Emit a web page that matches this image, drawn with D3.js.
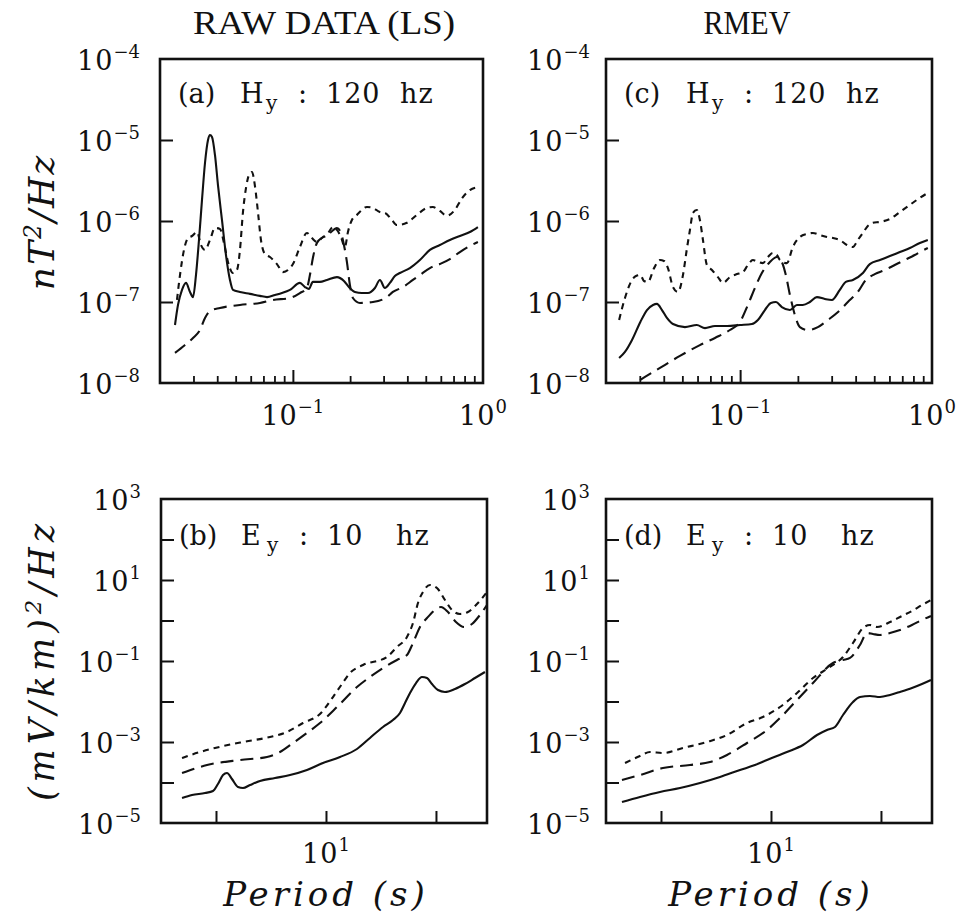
<!DOCTYPE html>
<html>
<head>
<meta charset="utf-8">
<script src="https://cdn.jsdelivr.net/npm/d3@7"></script>
<style>
  body { margin: 0; background: #fff; }
  text { fill: #111; }
</style>
</head>
<body>
<svg id="chart" width="967" height="922"></svg>
<script>
// ---- axis extents and tick values ----
const hyPeriodDomain = [0.02, 1];
const hyPowerDomain = [1e-8, 1e-4];
const eyPeriodDomain = [Math.pow(10, 0.25), Math.pow(10, 1.732)];
const eyPowerDomain = [1e-5, 1e3];
const hyYTicks = [1e-7, 1e-6, 1e-5];
const hyYLabels = [[1e-8, "\u22128"], [1e-7, "\u22127"], [1e-6, "\u22126"], [1e-5, "\u22125"], [1e-4, "\u22124"]];
const hyXLabels = [[0.1, "\u22121"], [1, "0"]];
const eyYTicks = [1e-4, 1e-3, 1e-2, 1e-1, 1, 10, 100];
const eyYLabels = [[1e-5, "\u22125"], [1e-3, "\u22123"], [1e-1, "\u22121"], [10, "1"], [1000, "3"]];
const eyXTicks = [Math.pow(10, 0.5), 10, Math.pow(10, 1.5)];
const eyXLabels = [[10, "1"]];

// ---- (a) Hy 120 hz, raw data (LS) ----
const aSolidT = [0.02398,0.02487,0.02611,0.0274,0.02876,0.02983,0.03092,0.03207,0.03326,0.03449,0.03577,0.03664,0.03754,0.03892,0.04036,0.04236,0.04447,0.04667,0.0484,0.05268,0.05946,0.06711,0.0731,0.08048,0.0876,0.0965,0.1089,0.1157,0.1214,0.1274,0.1388,0.151,0.1705,0.1856,0.1971,0.212,0.2307,0.2482,0.2701,0.2869,0.3048,0.3238,0.344,0.3655,0.4125,0.4656,0.5256,0.5932,0.6696,0.7558,0.853,0.94];
const aSolidP = [5.2e-8,9.2e-8,1.41e-7,1.72e-7,1.33e-7,1.15e-7,2.15e-7,5.83e-7,1.82e-6,5.2e-6,1.0e-5,1.15e-5,1.09e-5,6.53e-6,2.78e-6,1.03e-6,3.8e-7,1.87e-7,1.41e-7,1.33e-7,1.26e-7,1.19e-7,1.15e-7,1.22e-7,1.29e-7,1.41e-7,1.72e-7,1.53e-7,1.45e-7,1.77e-7,1.77e-7,1.87e-7,2.03e-7,1.82e-7,1.53e-7,1.33e-7,1.29e-7,1.29e-7,1.49e-7,1.87e-7,1.49e-7,1.72e-7,2.09e-7,2.28e-7,2.62e-7,3.3e-7,4.39e-7,5.06e-7,5.83e-7,6.53e-7,7.32e-7,8.43e-7];
const aShortT = [0.02457,0.02548,0.02674,0.02807,0.02947,0.0313,0.03286,0.03449,0.03664,0.03892,0.04135,0.0434,0.04556,0.0484,0.0508,0.05268,0.05463,0.05665,0.05875,0.06092,0.06317,0.06551,0.06793,0.0713,0.07575,0.08245,0.08867,0.0942,0.1001,0.1089,0.1185,0.1259,0.1338,0.1422,0.151,0.1624,0.1705,0.179,0.1878,0.1948,0.2044,0.2172,0.2452,0.2636,0.2869,0.3048,0.3318,0.3524,0.3978,0.4491,0.5068,0.5451,0.5932,0.6457,0.7114,0.7744,0.853,0.94];
const aShortP = [1.06e-7,2.15e-7,4.39e-7,6.17e-7,6.53e-7,7.32e-7,5.06e-7,4.39e-7,5.83e-7,8.2e-7,7.97e-7,5.36e-7,3.12e-7,2.28e-7,2.48e-7,4.39e-7,1.29e-6,2.55e-6,3.7e-6,4.03e-6,2.7e-6,1.29e-6,5.83e-7,3.91e-7,3.59e-7,2.94e-7,2.34e-7,2.48e-7,2.94e-7,4.78e-7,7.12e-7,6.17e-7,5.51e-7,6.17e-7,6.72e-7,8.43e-7,7.75e-7,6.34e-7,4.78e-7,7.32e-7,1.03e-6,1.19e-6,1.49e-6,1.45e-6,1.29e-6,1.26e-6,1.03e-6,8.93e-7,9.5e-7,1.19e-6,1.45e-6,1.49e-6,1.33e-6,1.16e-6,1.37e-6,1.9e-6,2.41e-6,2.62e-6];
const aLongT = [0.02398,0.02707,0.02983,0.03246,0.03449,0.03664,0.04135,0.05268,0.06711,0.0786,0.0965,0.1089,0.1185,0.1229,0.1274,0.1338,0.144,0.1566,0.1705,0.179,0.1856,0.1924,0.1995,0.2069,0.2252,0.2636,0.3123,0.3358,0.3791,0.4278,0.4656,0.5256,0.5932,0.6696,0.7558,0.853,0.94];
const aLongP = [2.35e-8,2.94e-8,3.6e-8,4.51e-8,6.35e-8,7.74e-8,8.43e-8,9.2e-8,9.74e-8,1.06e-7,1.12e-7,1.29e-7,1.49e-7,2.15e-7,3.49e-7,5.36e-7,6.34e-7,7.12e-7,8.2e-7,7.12e-7,5.06e-7,3.12e-7,1.62e-7,1.12e-7,9.74e-8,1.0e-7,1.15e-7,1.33e-7,1.53e-7,1.87e-7,2.15e-7,2.62e-7,2.94e-7,3.39e-7,4.14e-7,4.92e-7,5.51e-7];

// ---- (c) Hy 120 hz, RMEV ----
const cSolidT = [0.02341,0.02511,0.02733,0.0302,0.0327,0.03516,0.03686,0.03916,0.04155,0.04468,0.05158,0.05946,0.06559,0.07394,0.0855,0.0998,0.1152,0.1238,0.1346,0.1447,0.1537,0.165,0.1818,0.1978,0.212,0.231,0.2512,0.2764,0.3009,0.3309,0.3555,0.3869,0.4365,0.4741,0.5353,0.6034,0.6803,0.7669,0.8644,0.951];
const cSolidP = [2.03e-8,2.42e-8,3.4e-8,5.67e-8,7.96e-8,9.2e-8,9.47e-8,7.96e-8,6.35e-8,5.35e-8,4.9e-8,5.2e-8,4.76e-8,5.05e-8,5.05e-8,5.2e-8,5.35e-8,6.0e-8,7.96e-8,9.74e-8,1.0e-7,8.67e-8,7.96e-8,9.2e-8,9.2e-8,1.0e-7,1.15e-7,1.09e-7,1.06e-7,1.41e-7,1.77e-7,1.87e-7,2.28e-7,2.94e-7,3.3e-7,3.69e-7,4.14e-7,4.64e-7,5.36e-7,5.83e-7];
const cShortT = [0.02341,0.02511,0.02733,0.02866,0.0302,0.03153,0.03309,0.0356,0.03823,0.04011,0.04206,0.04468,0.04742,0.05037,0.05268,0.05476,0.05679,0.05946,0.06172,0.06402,0.06711,0.0713,0.0766,0.0814,0.0885,0.0963,0.1034,0.1098,0.1165,0.1238,0.1314,0.1396,0.1481,0.1556,0.1612,0.1754,0.1883,0.2049,0.2229,0.2393,0.2604,0.2833,0.3048,0.3309,0.3602,0.3869,0.4105,0.4365,0.4628,0.4917,0.5353,0.6034,0.6803,0.7669,0.8644,0.951];
const cShortP = [6.0e-8,1.12e-7,1.87e-7,2.09e-7,2.15e-7,1.82e-7,1.77e-7,2.62e-7,3.3e-7,3.21e-7,2.62e-7,1.53e-7,1.33e-7,2.15e-7,4.39e-7,7.75e-7,1.26e-6,1.37e-6,1.03e-6,5.83e-7,2.86e-7,2.48e-7,2.03e-7,1.72e-7,2.03e-7,2.21e-7,2.34e-7,2.86e-7,3.3e-7,3.12e-7,3.02e-7,3.59e-7,4.03e-7,3.8e-7,3.3e-7,3.02e-7,4.78e-7,6.34e-7,6.91e-7,7.12e-7,6.72e-7,6.34e-7,6.17e-7,5.83e-7,5.06e-7,4.78e-7,5.83e-7,7.12e-7,8.68e-7,9.5e-7,9.74e-7,1.06e-6,1.29e-6,1.58e-6,1.93e-6,2.22e-6];
const cLongT = [0.02481,0.0302,0.03823,0.04857,0.06172,0.07394,0.0885,0.0998,0.1098,0.1194,0.1298,0.143,0.1556,0.165,0.1731,0.1818,0.1929,0.2049,0.2255,0.2542,0.2869,0.3238,0.3642,0.4105,0.4517,0.5031,0.5673,0.6394,0.7209,0.8127,0.884,0.951];
const cLongP = [7.75e-9,1.09e-8,1.535e-8,2.16e-8,2.94e-8,3.6e-8,4.51e-8,5.67e-8,9.2e-8,1.49e-7,2.28e-7,3.12e-7,3.59e-7,3.12e-7,2.15e-7,1.22e-7,6.91e-8,4.9e-8,4.51e-8,4.9e-8,6.0e-8,7.52e-8,1.0e-7,1.33e-7,1.87e-7,2.21e-7,2.48e-7,2.86e-7,3.3e-7,3.8e-7,4.26e-7,4.64e-7];

// ---- (b) Ey 10 hz, raw data (LS) ----
const bSolidT = [2.216,2.46,2.818,3.064,3.228,3.403,3.548,3.738,3.981,4.195,4.514,5.012,5.864,6.861,8.195,9.69,11.58,13.83,15.85,18.16,20.16,21.7,22.87,24.1,25.66,27.32,28.79,30.33,32.29,34.75,38.59,42.83,47.56,52.8];
const bSolidP = [4.14e-5,4.91e-5,5.5e-5,6.17e-5,9.18e-5,1.53e-4,1.72e-4,1.22e-4,7.74e-5,7.31e-5,8.67e-5,1.09e-4,1.29e-4,1.53e-4,2.04e-4,3.03e-4,4.26e-4,6.72e-4,1.26e-3,2.35e-3,3.49e-3,5.2e-3,9.18e-3,1.62e-2,2.86e-2,4.03e-2,3.8e-2,2.7e-2,1.92e-2,1.72e-2,2.04e-2,2.7e-2,3.8e-2,5.35e-2];
const bShortT = [2.216,2.675,3.129,4.195,5.565,6.647,7.86,9.39,10.76,11.82,12.86,14.73,18.94,21.02,23.34,24.86,26.19,27.6,29.7,31.95,34.75,37.39,40.64,44.2,48.57,53.93];
const bShortP = [4.03e-4,5.66e-4,7.11e-4,1.0e-3,1.33e-3,1.77e-3,2.94e-3,4.91e-3,1.29e-2,2.7e-2,5.06e-2,7.96e-2,0.126,0.222,0.392,0.867,2.7,5.06,7.53,6.35,3.21,1.82,1.45,1.62,2.55,5.06];
const bLongT = [2.216,2.878,4.065,5.393,6.178,7.079,8.195,9.39,11.22,13.83,15.85,18.16,21.02,23.34,24.86,26.75,28.79,31.3,33.32,35.85,38.98,42.4,46.09,50.12,53.93];
const bLongP = [1.72e-4,2.7e-4,3.6e-4,4.26e-4,5.66e-4,9.44e-4,1.67e-3,2.94e-3,7.31e-3,2.28e-2,4.03e-2,6.72e-2,0.106,0.141,0.278,0.692,1.15,1.82,2.15,1.62,0.918,0.692,0.82,1.37,2.41];

// ---- (d) Ey 10 hz, RMEV ----
const dSolidT = [2.102,2.538,3.129,3.858,4.756,5.864,7.231,8.456,9.59,11.82,13.98,16.19,17.97,19.54,21.25,23.59,25.38,28.18,31.3,34.75,38.59,43.74,48.57,53.37];
const dSolidP = [3.3e-5,4.39e-5,5.83e-5,7.31e-5,9.72e-5,1.37e-4,2.04e-4,2.7e-4,3.6e-4,5.66e-4,8.43e-4,1.49e-3,1.98e-3,2.35e-3,4.64e-3,9.72e-3,1.29e-2,1.37e-2,1.29e-2,1.45e-2,1.72e-2,2.15e-2,2.7e-2,3.4e-2];
const dShortT = [2.17,2.538,2.818,3.228,3.981,5.117,6.31,7.779,9.19,10.99,13.13,15.52,18.54,21.25,23.59,26.19,28.18,30.33,34.75,38.59,43.74,48.57,53.37];
const dShortP = [3.03e-4,4.51e-4,5.66e-4,5.35e-4,7.11e-4,1.0e-3,1.49e-3,2.94e-3,4.14e-3,7.31e-3,1.62e-2,3.8e-2,7.11e-2,0.126,0.278,0.653,0.775,0.692,0.918,1.22,1.72,2.41,3.21];
const dLongT = [2.102,2.538,3.228,4.283,5.28,6.31,7.779,9.59,10.99,13.13,15.52,19.13,21.25,22.87,25.38,27.32,29.08,31.3,34.75,38.59,43.74,48.57,53.37];
const dLongP = [1.15e-4,1.53e-4,2.28e-4,2.7e-4,3.21e-4,4.78e-4,9.44e-4,1.98e-3,3.91e-3,1.09e-2,2.86e-2,8.93e-2,0.106,0.119,0.248,0.491,0.464,0.439,0.491,0.582,0.775,1.03,1.29];


const svg = d3.select("#chart");
const serif = "DejaVu Serif";

// dash patterns: solid / short dashes / long dashes
const dash = { solid: null, short: "6,5", long: "13,7" };

const panels = [
  { id: "a", tag: "(a)", field: "H", rate: "120", x: 160, y: 59, w: 323, h: 324, kind: "hy",
    series: [[aSolidT, aSolidP, "solid"], [aShortT, aShortP, "short"], [aLongT, aLongP, "long"]] },
  { id: "c", tag: "(c)", field: "H", rate: "120", x: 606, y: 59, w: 326, h: 324, kind: "hy",
    series: [[cSolidT, cSolidP, "solid"], [cShortT, cShortP, "short"], [cLongT, cLongP, "long"]] },
  { id: "b", tag: "(b)", field: "E", rate: "10", x: 161, y: 499, w: 326, h: 324, kind: "ey",
    series: [[bSolidT, bSolidP, "solid"], [bShortT, bShortP, "short"], [bLongT, bLongP, "long"]] },
  { id: "d", tag: "(d)", field: "E", rate: "10", x: 606, y: 499, w: 326, h: 324, kind: "ey",
    series: [[dSolidT, dSolidP, "solid"], [dShortT, dShortP, "short"], [dLongT, dLongP, "long"]] }
];

// "10" with a raised exponent
function pow10(sel, x, y, exp, anchor) {
  const t = sel.append("text")
    .attr("x", x).attr("y", y)
    .attr("text-anchor", anchor)
    .attr("font-family", serif)
    .attr("font-size", 27)
    .attr("letter-spacing", 1);
  t.append("tspan").text("10");
  t.append("tspan").attr("dy", -12).attr("font-size", 18).attr("letter-spacing", 0).text(exp);
}

panels.forEach(p => {
  const hy = p.kind === "hy";
  const x = d3.scaleLog().domain(hy ? hyPeriodDomain : eyPeriodDomain).range([p.x, p.x + p.w]);
  const y = d3.scaleLog().domain(hy ? hyPowerDomain : eyPowerDomain).range([p.y + p.h, p.y]);
  const g = svg.append("g");

  g.append("clipPath").attr("id", "clip-" + p.id)
    .append("rect").attr("x", p.x).attr("y", p.y).attr("width", p.w).attr("height", p.h);

  // curves
  const line = d3.line()
    .x(d => x(d[0]))
    .y(d => y(d[1]))
    .curve(d3.curveMonotoneX);

  p.series.forEach(([ts, vs, style]) => {
    const pts = ts.map((t, i) => [t, vs[i]]);
    g.append("path")
      .datum(pts)
      .attr("clip-path", `url(#clip-${p.id})`)
      .attr("d", line)
      .attr("fill", "none")
      .attr("stroke", "#111")
      .attr("stroke-width", 2.1)
      .attr("stroke-dasharray", dash[style]);
  });

  // y ticks (inward)
  g.append("g")
    .attr("transform", `translate(${p.x},0)`)
    .call(d3.axisLeft(y).tickValues(hy ? hyYTicks : eyYTicks).tickSize(-13).tickFormat(""))
    .call(a => a.select(".domain").remove())
    .call(a => a.selectAll("line").attr("stroke", "#111").attr("stroke-width", 2));

  // x ticks (inward)
  if (hy) {
    const minor = [];
    [0.01, 0.1].forEach(base => d3.range(2, 10).forEach(k => {
      const v = base * k;
      if (v > hyPeriodDomain[0] && v < hyPeriodDomain[1]) minor.push(v);
    }));
    g.append("g")
      .attr("transform", `translate(0,${p.y + p.h})`)
      .call(d3.axisBottom(x).tickValues(minor).tickSize(-7).tickFormat(""))
      .call(a => a.select(".domain").remove())
      .call(a => a.selectAll("line").attr("stroke", "#111").attr("stroke-width", 1.8));
    g.append("g")
      .attr("transform", `translate(0,${p.y + p.h})`)
      .call(d3.axisBottom(x).tickValues([0.1]).tickSize(-13).tickFormat(""))
      .call(a => a.select(".domain").remove())
      .call(a => a.selectAll("line").attr("stroke", "#111").attr("stroke-width", 2));
  } else {
    g.append("g")
      .attr("transform", `translate(0,${p.y + p.h})`)
      .call(d3.axisBottom(x).tickValues(eyXTicks).tickSize(-12).tickFormat(""))
      .call(a => a.select(".domain").remove())
      .call(a => a.selectAll("line").attr("stroke", "#111").attr("stroke-width", 2));
  }

  // frame
  g.append("rect")
    .attr("x", p.x).attr("y", p.y).attr("width", p.w).attr("height", p.h)
    .attr("fill", "none").attr("stroke", "#111").attr("stroke-width", 2.6);

  // tick labels
  const labX = p.x < 300 ? p.x - 20 : p.x - 16;
  (hy ? hyYLabels : eyYLabels).forEach(([v, e]) => pow10(svg, labX, y(v) + 11, e, "end"));
  (hy ? hyXLabels : eyXLabels).forEach(([v, e]) => pow10(svg, x(v), p.y + p.h + (hy ? 42 : 40), e, "middle"));

  // panel label, e.g. (a) Hy : 120 hz
  const ly = p.y + (hy ? 44 : 46);
  const lab = svg.append("g").attr("font-family", serif).attr("font-size", 27);
  lab.append("text").attr("x", p.x + 18).attr("y", ly).text(p.tag);
  lab.append("text").attr("x", p.x + 80).attr("y", ly).text(p.field);
  lab.append("text").attr("x", p.x + 106).attr("y", ly + 7).attr("font-size", 20).text("y");
  lab.append("text").attr("x", p.x + 138).attr("y", ly).text(":");
  lab.append("text").attr("x", p.x + 166).attr("y", ly).attr("letter-spacing", 1).text(p.rate);
  lab.append("text").attr("x", p.x + (hy ? 240 : 235)).attr("y", ly).attr("letter-spacing", 1).text("hz");
});

// column titles
svg.append("text").attr("x", 324).attr("y", 34).attr("text-anchor", "middle")
  .attr("font-family", "Liberation Serif").attr("font-size", 33)
  .attr("textLength", 262).attr("lengthAdjust", "spacingAndGlyphs")
  .text("RAW DATA (LS)");
svg.append("text").attr("x", 747).attr("y", 34).attr("text-anchor", "middle")
  .attr("font-family", "Liberation Serif").attr("font-size", 33)
  .attr("textLength", 87).attr("lengthAdjust", "spacingAndGlyphs")
  .text("RMEV");

// x axis titles
[326, 771].forEach(cx => {
  svg.append("text").attr("x", cx).attr("y", 906).attr("text-anchor", "middle")
    .attr("font-family", serif).attr("font-style", "italic").attr("font-size", 34)
    .attr("letter-spacing", 4)
    .text("Period (s)");
});

// y axis titles
function yTitle(cx, cy, parts, size, spacing) {
  const t = svg.append("text")
    .attr("transform", `translate(${cx},${cy}) rotate(-90)`)
    .attr("text-anchor", "middle")
    .attr("font-family", serif).attr("font-style", "italic").attr("font-size", size)
    .attr("letter-spacing", spacing);
  t.append("tspan").text(parts[0]);
  t.append("tspan").attr("dy", -13).attr("font-size", size * 0.65).text("2");
  t.append("tspan").attr("dy", 13).text(parts[1]);
}
yTitle(54, 222, ["nT", "/Hz"], 36, 2);
yTitle(54, 660, ["(mV/km)", "/Hz"], 35, 5);
</script>
</body>
</html>
